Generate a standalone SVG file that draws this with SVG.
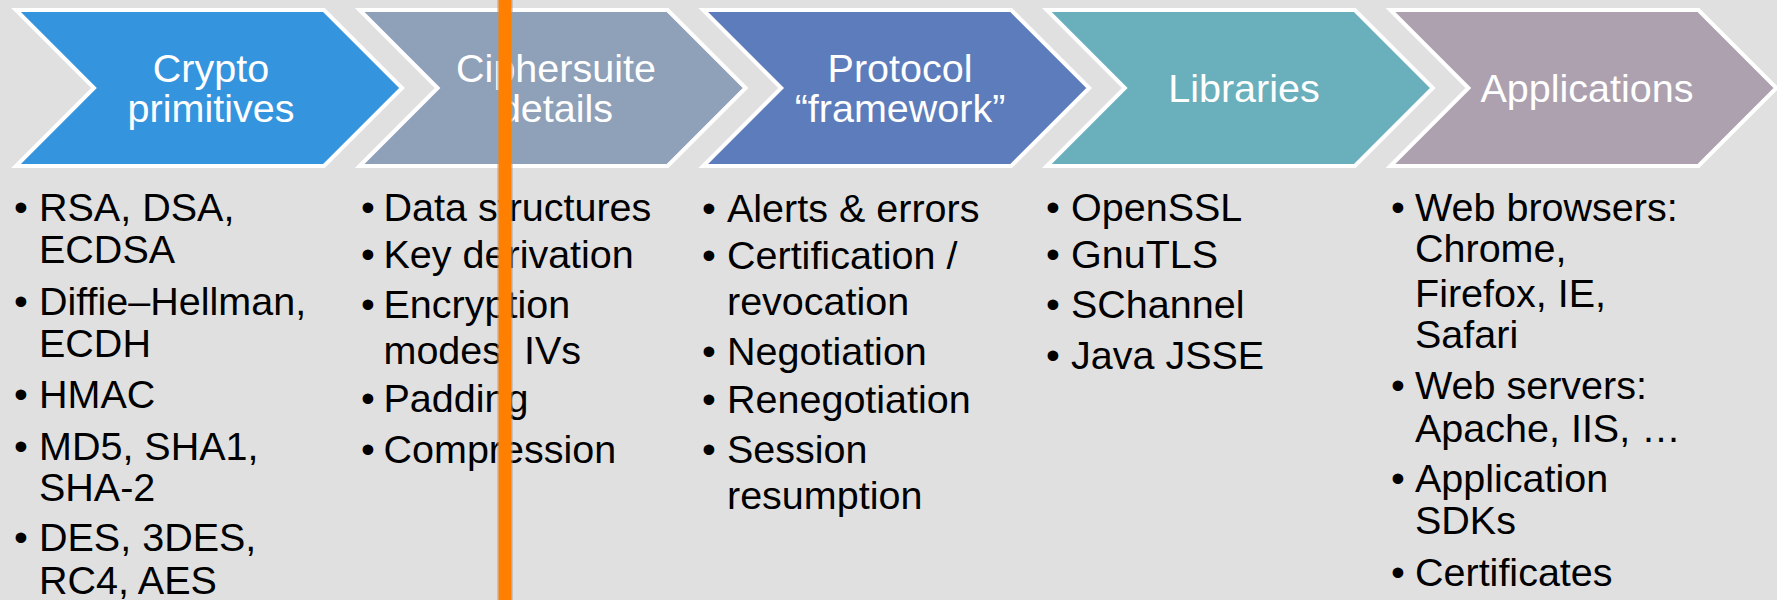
<svg xmlns="http://www.w3.org/2000/svg" width="1777" height="600" viewBox="0 0 1777 600">
<style>
.chev{stroke:#ffffff;stroke-width:4;stroke-linejoin:miter}
.hd{font-family:"Liberation Sans",Arial,sans-serif;font-size:39.5px;fill:#ffffff;text-anchor:middle}
.tx{font-family:"Liberation Sans",Arial,sans-serif;font-size:39.5px;fill:#000000}
.bl{font-family:"Liberation Sans",Arial,sans-serif;font-size:39.5px;fill:#000000;text-anchor:middle}
</style>
<defs>
<polygon id="chevShape" points="16,10 324,10 402,88 324,166 16,166 94,88"/>
</defs>
<rect x="0" y="0" width="1777" height="600" fill="#e0e0e0"/>

<g id="crypto-primitives">
<use href="#chevShape" class="chev" fill="#3494de"/>
<text class="hd" x="211" y="82">Crypto</text>
<text class="hd" x="211" y="122">primitives</text>
<text class="bl" x="21" y="221">•</text><text class="tx" x="39" y="221">RSA, DSA,</text>
<text class="tx" x="39" y="263">ECDSA</text>
<text class="bl" x="21" y="315">•</text><text class="tx" x="39" y="315">Diffie–Hellman,</text>
<text class="tx" x="39" y="357">ECDH</text>
<text class="bl" x="21" y="408">•</text><text class="tx" x="39" y="408">HMAC</text>
<text class="bl" x="21" y="460">•</text><text class="tx" x="39" y="460">MD5, SHA1,</text>
<text class="tx" x="39" y="501">SHA-2</text>
<text class="bl" x="21" y="551">•</text><text class="tx" x="39" y="551">DES, 3DES,</text>
<text class="tx" x="39" y="594">RC4, AES</text>
</g>

<g id="ciphersuite-details">
<use href="#chevShape" x="343.6" class="chev" fill="#8fa0b9"/>
<text class="hd" x="556" y="82">Ciphersuite</text>
<text class="hd" x="556" y="122">details</text>
<text class="bl" x="368" y="221">•</text><text class="tx" x="383.5" y="221">Data structures</text>
<text class="bl" x="368" y="268">•</text><text class="tx" x="383.5" y="268">Key derivation</text>
<text class="bl" x="368" y="318">•</text><text class="tx" x="383.5" y="318">Encryption</text>
<text class="tx" x="383.5" y="364">modes, IVs</text>
<text class="bl" x="368" y="412">•</text><text class="tx" x="383.5" y="412">Padding</text>
<text class="bl" x="368" y="463">•</text><text class="tx" x="383.5" y="463">Compression</text>
</g>

<g id="protocol-framework">
<use href="#chevShape" x="687.2" class="chev" fill="#5c7cbb"/>
<text class="hd" x="900" y="82">Protocol</text>
<text class="hd" x="900" y="122">“framework”</text>
<text class="bl" x="709" y="222">•</text><text class="tx" x="727" y="222">Alerts &amp; errors</text>
<text class="bl" x="709" y="269">•</text><text class="tx" x="727" y="269">Certification /</text>
<text class="tx" x="727" y="315">revocation</text>
<text class="bl" x="709" y="365">•</text><text class="tx" x="727" y="365">Negotiation</text>
<text class="bl" x="709" y="413">•</text><text class="tx" x="727" y="413">Renegotiation</text>
<text class="bl" x="709" y="463">•</text><text class="tx" x="727" y="463">Session</text>
<text class="tx" x="727" y="509">resumption</text>
</g>

<g id="libraries">
<use href="#chevShape" x="1030.8" class="chev" fill="#6aafbc"/>
<text class="hd" x="1244" y="102">Libraries</text>
<text class="bl" x="1053" y="221">•</text><text class="tx" x="1071" y="221">OpenSSL</text>
<text class="bl" x="1053" y="268">•</text><text class="tx" x="1071" y="268">GnuTLS</text>
<text class="bl" x="1053" y="318">•</text><text class="tx" x="1071" y="318">SChannel</text>
<text class="bl" x="1053" y="369">•</text><text class="tx" x="1071" y="369">Java JSSE</text>
</g>

<g id="applications">
<use href="#chevShape" x="1374.4" class="chev" fill="#ada1af"/>
<text class="hd" x="1587" y="102">Applications</text>
<text class="bl" x="1398" y="221">•</text><text class="tx" x="1415" y="221">Web browsers:</text>
<text class="tx" x="1415" y="262">Chrome,</text>
<text class="tx" x="1415" y="307">Firefox, IE,</text>
<text class="tx" x="1415" y="348">Safari</text>
<text class="bl" x="1398" y="399">•</text><text class="tx" x="1415" y="399">Web servers:</text>
<text class="tx" x="1415" y="442">Apache, IIS, …</text>
<text class="bl" x="1398" y="492">•</text><text class="tx" x="1415" y="492">Application</text>
<text class="tx" x="1415" y="534">SDKs</text>
<text class="bl" x="1398" y="586">•</text><text class="tx" x="1415" y="586">Certificates</text>
</g>

<g id="connectors"></g>

<g id="marker-line">
<rect x="497" y="0" width="16" height="600" fill="#a0a0a0" opacity="0.45"/>
<rect x="498.5" y="0" width="13" height="600" fill="#ff7f00"/>
</g>
</svg>
